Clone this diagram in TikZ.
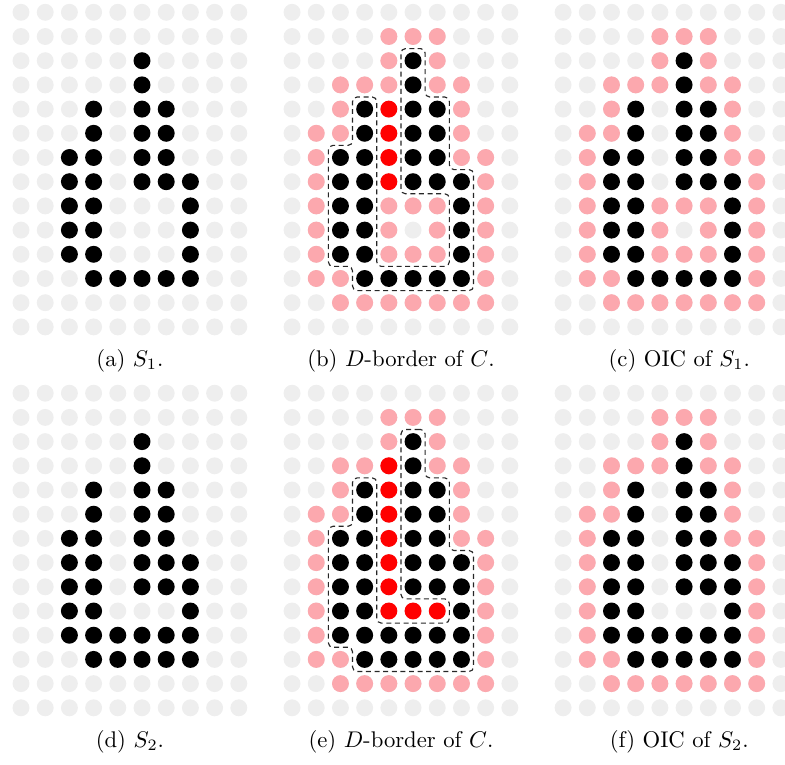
\documentclass[tikz,border=0pt]{standalone}
\definecolor{dotgray}{RGB}{238,238,238}
\definecolor{dotpink}{RGB}{252,168,174}
\tikzset{
  gry/.style={fill=dotgray},
  pnk/.style={fill=dotpink},
  blk/.style={fill=black},
  rdd/.style={fill=red},
  bord/.style={draw=black!85,line width=.5pt,dash pattern=on 2.2pt off 1.6pt,
               rounded corners=2pt},
  subcap/.style={anchor=base,inner sep=0pt},
}
% cells as col/row, row counted downwards
\newcommand{\SoneBlk}{5/2,5/3,3/4,5/4,6/4,3/5,5/5,6/5,2/6,3/6,5/6,6/6,
  2/7,3/7,5/7,6/7,7/7,2/8,3/8,7/8,2/9,3/9,7/9,2/10,3/10,7/10,
  3/11,4/11,5/11,6/11,7/11}
\newcommand{\StwoBlk}{5/2,5/3,3/4,5/4,6/4,3/5,5/5,6/5,2/6,3/6,5/6,6/6,
  2/7,3/7,5/7,6/7,7/7,2/8,3/8,5/8,6/8,7/8,2/9,3/9,7/9,
  2/10,3/10,4/10,5/10,6/10,7/10,3/11,4/11,5/11,6/11,7/11}
\newcommand{\SonePnk}{4/1,5/1,6/1,4/2,6/2,2/3,3/3,4/3,6/3,7/3,2/4,7/4,
  1/5,2/5,7/5,1/6,7/6,8/6,1/7,8/7,1/8,4/8,5/8,6/8,8/8,1/9,4/9,6/9,8/9,
  1/10,4/10,5/10,6/10,8/10,1/11,2/11,8/11,
  2/12,3/12,4/12,5/12,6/12,7/12,8/12}
\newcommand{\StwoPnk}{4/1,5/1,6/1,4/2,6/2,2/3,3/3,4/3,6/3,7/3,2/4,7/4,
  1/5,2/5,7/5,1/6,7/6,8/6,1/7,8/7,1/8,8/8,1/9,8/9,1/10,8/10,1/11,2/11,8/11,
  2/12,3/12,4/12,5/12,6/12,7/12,8/12}

\begin{document}
\begin{tikzpicture}[x=.375cm,y=.375cm]
  \useasboundingbox (-0.868,0.508) rectangle (31.57,-31.1);
  % grey grid under every panel
  \foreach \px/\py in {0/0,11.2/0,22.4/0,0/-15.74,11.2/-15.74,22.4/-15.74}
    \foreach \c in {0,...,9}
      \foreach \r in {0,...,13}
        \fill[gry] (\px+\c,\py-\r) circle (.35);
  % (a)
  \begin{scope}[shift={(0,0)}]
    \foreach \c/\r in \SoneBlk \fill[blk] (\c,-\r) circle (.35);
  \end{scope}
  % (b)
  \begin{scope}[shift={(11.2,0)}]
    \foreach \c/\r in \SonePnk \fill[pnk] (\c,-\r) circle (.35);
    \foreach \c/\r in \SoneBlk \fill[blk] (\c,-\r) circle (.35);
    \foreach \c/\r in {4/4,4/5,4/6,4/7} \fill[rdd] (\c,-\r) circle (.35);
    \draw[bord] (5,-1.5) -- (5.5,-1.5) -- (5.5,-3.5) -- (6.5,-3.5) -- (6.5,-6.5)
      -- (7.5,-6.5) -- (7.5,-11.5) -- (2.5,-11.5) -- (2.5,-10.5) -- (1.5,-10.5)
      -- (1.5,-5.5) -- (2.5,-5.5) -- (2.5,-3.5) -- (3.5,-3.5) -- (3.5,-10.5)
      -- (6.5,-10.5) -- (6.5,-7.5) -- (4.5,-7.5) -- (4.5,-1.5) -- cycle;
  \end{scope}
  % (c)
  \begin{scope}[shift={(22.4,0)}]
    \foreach \c/\r in \SonePnk \fill[pnk] (\c,-\r) circle (.35);
    \foreach \c/\r in \SoneBlk \fill[blk] (\c,-\r) circle (.35);
  \end{scope}
  % (d)
  \begin{scope}[shift={(0,-15.74)}]
    \foreach \c/\r in \StwoBlk \fill[blk] (\c,-\r) circle (.35);
  \end{scope}
  % (e)
  \begin{scope}[shift={(11.2,-15.74)}]
    \foreach \c/\r in \StwoPnk \fill[pnk] (\c,-\r) circle (.35);
    \foreach \c/\r in \StwoBlk \fill[blk] (\c,-\r) circle (.35);
    \foreach \c/\r in {4/3,4/4,4/5,4/6,4/7,4/8,4/9,5/9,6/9}
      \fill[rdd] (\c,-\r) circle (.35);
    \draw[bord] (5,-1.5) -- (5.5,-1.5) -- (5.5,-3.5) -- (6.5,-3.5) -- (6.5,-6.5)
      -- (7.5,-6.5) -- (7.5,-11.5) -- (2.5,-11.5) -- (2.5,-10.5) -- (1.5,-10.5)
      -- (1.5,-5.5) -- (2.5,-5.5) -- (2.5,-3.5) -- (3.5,-3.5) -- (3.5,-9.5)
      -- (6.5,-9.5) -- (6.5,-8.5) -- (4.5,-8.5) -- (4.5,-1.5) -- cycle;
  \end{scope}
  % (f)
  \begin{scope}[shift={(22.4,-15.74)}]
    \foreach \c/\r in \StwoPnk \fill[pnk] (\c,-\r) circle (.35);
    \foreach \c/\r in \StwoBlk \fill[blk] (\c,-\r) circle (.35);
  \end{scope}
  % captions
  \node[subcap] (capa) at (4.5,-14.64) {(a) $S_1$.};
  \node[subcap] (capb) at (15.7,-14.64) {(b) $D$-border of $C$.};
  \node[subcap] (capc) at (27.2,-14.64) {(c) OIC of $S_1$.};
  \node[subcap] (capd) at (4.5,-30.38) {(d) $S_2$.};
  \node[subcap] (cape) at (15.7,-30.38) {(e) $D$-border of $C$.};
  \node[subcap] (capf) at (27.2,-30.38) {(f) OIC of $S_2$.};
\end{tikzpicture}
\end{document}
